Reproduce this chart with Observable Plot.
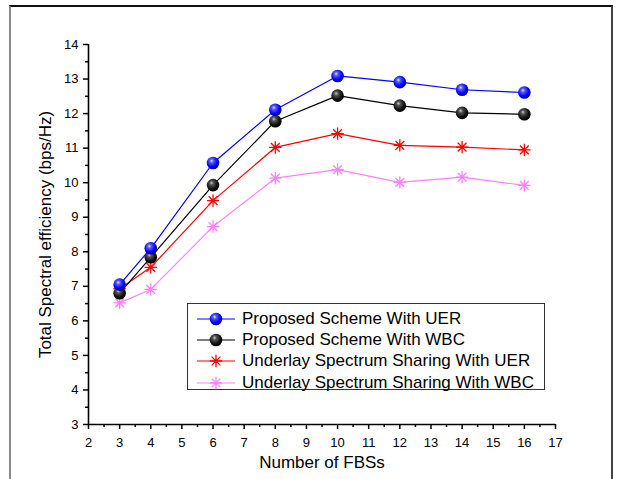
<!DOCTYPE html>
<html><head><meta charset="utf-8">
<script src="https://cdn.jsdelivr.net/npm/d3@7"></script>
<script src="https://cdn.jsdelivr.net/npm/@observablehq/plot@0.6"></script>
<style>
body{margin:0;background:#fff;font-family:"Liberation Sans",Arial,sans-serif;}
#wrap{position:relative;width:619px;height:479px;overflow:hidden;background:#fff}
#wrap svg.chart{position:absolute;left:0;top:0}
#frame{position:absolute;left:9px;top:5px;width:600px;height:490px;border-top:2px solid #111;border-left:2px solid #888;border-right:2px solid #444;pointer-events:none}
#legend{position:absolute;left:187px;top:303px;width:358px;height:87px;border:1px solid #333;background:#fff;font-size:17px;box-sizing:border-box;padding-top:4px}
#legend .row{display:flex;align-items:center;height:21.3px;white-space:nowrap;color:#000}
#legend .row svg{margin-left:8px;margin-right:6px;flex:none}
</style>
</head><body>
<div id="wrap"><div id="frame"></div></div>
<script>
const fbs = [3, 4, 6, 8, 10, 12, 14, 16];
const proposedUER = [7.05, 8.10, 10.57, 12.11, 13.09, 12.91, 12.69, 12.61];
const proposedWBC = [6.80, 7.84, 9.93, 11.78, 12.52, 12.23, 12.02, 11.98];
const underlayUER = [6.93, 7.55, 9.48, 11.02, 11.42, 11.08, 11.03, 10.95];
const underlayWBC = [6.52, 6.91, 8.73, 10.13, 10.38, 10.01, 10.16, 9.92];
const seriesNames = ["Proposed Scheme With UER", "Proposed Scheme With WBC", "Underlay Spectrum Sharing With UER", "Underlay Spectrum Sharing With WBC"];
const xTicks = [2,3,4,5,6,7,8,9,10,11,12,13,14,15,16,17];
const yTicks = [3,4,5,6,7,8,9,10,11,12,13,14];

const seriesValues = [proposedUER, proposedWBC, underlayUER, underlayWBC];
const styles = [
  {color:"#0000ff", marker:"sphere", fill:"url(#gBlue)"},
  {color:"#000000", marker:"sphere", fill:"url(#gBlack)"},
  {color:"#ff0000", marker:"star"},
  {color:"#ff80ff", marker:"star"}
];
const rows = [];
seriesNames.forEach((s, i) => fbs.forEach((x, j) => rows.push({series: s, idx: i, x, y: seriesValues[i][j]})));

const star8 = {
  draw(ctx, size) {
    const r = Math.sqrt(size / Math.PI);
    for (let k = 0; k < 4; k++) {
      const a = k * Math.PI / 4;
      ctx.moveTo(r * Math.cos(a), r * Math.sin(a));
      ctx.lineTo(-r * Math.cos(a), -r * Math.sin(a));
    }
  }
};

const marks = [
  Plot.axisX({ticks: xTicks, tickSize: 5, tickPadding: 8, fontSize: 13, label: null, strokeWidth: 1.5, tickFormat: d => String(d)}),
  Plot.axisX({ticks: d3.range(2.5, 17, 1), tickSize: 3, tickFormat: () => "", label: null, strokeWidth: 1.5}),
  Plot.axisY({ticks: yTicks, tickSize: 5, tickPadding: 5, fontSize: 13, label: null, strokeWidth: 1.5, tickFormat: d => String(d)}),
  Plot.axisY({ticks: d3.range(3.5, 14, 1), tickSize: 3, tickFormat: () => "", label: null, strokeWidth: 1.5}),
  Plot.ruleX([2], {strokeWidth: 1.6}),
  Plot.ruleY([3], {strokeWidth: 1.6}),
  Plot.text(["Number of FBSs"], {frameAnchor: "bottom", dy: 43, fontSize: 17}),
  Plot.text(["Total Spectral efficiency (bps/Hz)"], {frameAnchor: "left", dx: -43, rotate: -90, textAnchor: "middle", fontSize: 17})
];
[3, 2, 1, 0].forEach(i => {
  const d = rows.filter(r => r.idx === i);
  marks.push(Plot.line(d, {x: "x", y: "y", stroke: styles[i].color, strokeWidth: 1.2}));
});
[3, 2, 1, 0].forEach(i => {
  const d = rows.filter(r => r.idx === i);
  if (styles[i].marker === "sphere") {
    marks.push(Plot.dot(d, {x: "x", y: "y", r: 6.3, fill: styles[i].fill, stroke: "none"}));
  } else {
    marks.push(Plot.dot(d, {x: "x", y: "y", r: 6.2, symbol: star8, stroke: styles[i].color, strokeWidth: 1.3, fill: "none"}));
  }
});

const chart = Plot.plot({
  width: 619, height: 479,
  marginLeft: 88, marginRight: 64, marginTop: 44, marginBottom: 55,
  style: {fontFamily: '"Liberation Sans", Arial, sans-serif', fontSize: "13px", color: "#000", background: "transparent"},
  x: {domain: [2, 17]},
  y: {domain: [3, 14]},
  marks
});
chart.classList.add("chart");
const defsHTML = `
<radialGradient id="gBlue" cx="0.42" cy="0.38" r="0.62" fx="0.38" fy="0.32">
  <stop offset="0" stop-color="#e8e8ff"/><stop offset="0.25" stop-color="#5a5aff"/>
  <stop offset="0.7" stop-color="#0000ff"/><stop offset="1" stop-color="#00009a"/></radialGradient>
<radialGradient id="gBlack" cx="0.42" cy="0.38" r="0.62" fx="0.38" fy="0.32">
  <stop offset="0" stop-color="#d0d0d0"/><stop offset="0.25" stop-color="#555"/>
  <stop offset="0.7" stop-color="#111"/><stop offset="1" stop-color="#000"/></radialGradient>`;
d3.select(chart).insert("defs", ":first-child").html(defsHTML);
const wrap = document.getElementById("wrap");
wrap.insertBefore(chart, wrap.firstChild);

// Legend
const legend = d3.select(wrap).append("div").attr("id", "legend");
seriesNames.forEach((name, i) => {
  const row = legend.append("div").attr("class", "row");
  const s = row.append("svg").attr("width", 40).attr("height", 16);
  s.append("line").attr("x1", 1).attr("x2", 39).attr("y1", 8).attr("y2", 8)
    .attr("stroke", styles[i].color).attr("stroke-width", 1.2);
  if (styles[i].marker === "sphere") {
    s.append("circle").attr("cx", 20).attr("cy", 8).attr("r", 6.3).attr("fill", styles[i].fill);
  } else {
    const p = d3.path(); star8.draw(p, 6.2 * 6.2 * Math.PI);
    s.append("path").attr("d", p.toString()).attr("transform", "translate(20,8)")
      .attr("stroke", styles[i].color).attr("stroke-width", 1.3).attr("fill", "none");
  }
  row.append("span").text(name);
});
</script>
</body></html>
